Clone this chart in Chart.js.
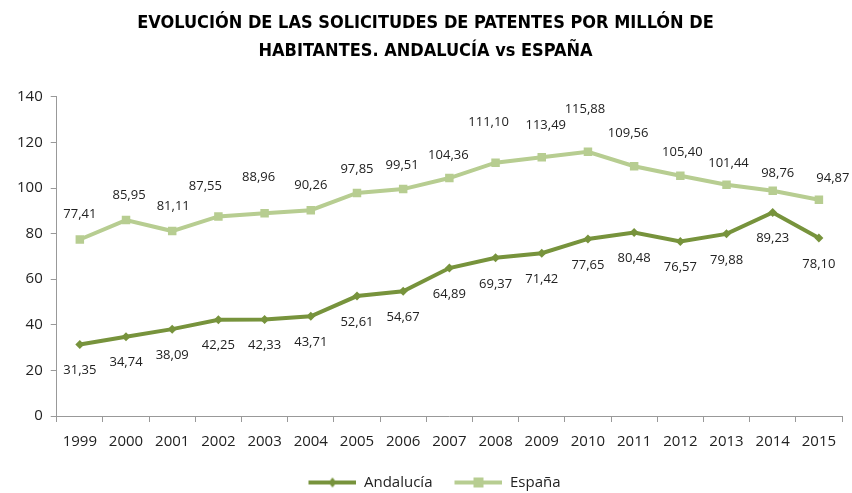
<!DOCTYPE html>
<html>
<head>
<meta charset="utf-8">
<script src="https://cdn.jsdelivr.net/npm/chart.js@4/dist/chart.umd.min.js"></script>
<style>
  html, body { margin: 0; padding: 0; background: #fff; }
  #wrap { width: 852px; height: 493px; position: relative; }
</style>
</head>
<body>
<div id="wrap"><canvas id="chart"></canvas></div>
<script>
// años y valores (solicitudes por millón de habitantes)
var years = ['1999','2000','2001','2002','2003','2004','2005','2006','2007','2008','2009','2010','2011','2012','2013','2014','2015'];
var andalucia = [31.35, 34.74, 38.09, 42.25, 42.33, 43.71, 52.61, 54.67, 64.89, 69.37, 71.42, 77.65, 80.48, 76.57, 79.88, 89.23, 78.10];
var espana = [77.41, 85.95, 81.11, 87.55, 88.96, 90.26, 97.85, 99.51, 104.36, 111.10, 113.49, 115.88, 109.56, 105.40, 101.44, 98.76, 94.87];

// desplazamiento de las etiquetas de España (como las colocó Excel)
var espLabelShift = [[0,-25],[3,-25],[1,-25],[-13,-30],[-6,-36],[0,-25],[0,-24],[-1,-24],[-1,-23],[-7,-40],[4,-32],[-3,-42],[-6,-33],[2,-23],[2,-21],[5,-18],[14,-21]];

var colAnd = '#77933C';
var colEsp = '#B7CD91';
var FONT = "'Open Sans', 'Liberation Sans', sans-serif";

// icono de leyenda: hueco a la izquierda + línea con marcador
function legendIcon(color, style) {
    var c = document.createElement('canvas');
    c.width = 66; c.height = 12;
    var g = c.getContext('2d');
    g.strokeStyle = color; g.fillStyle = color; g.lineWidth = 4;
    g.beginPath(); g.moveTo(18, 6); g.lineTo(66, 6); g.stroke();
    if (style === 'rect') {
        g.fillRect(37, 1, 10, 10);
    } else {
        g.beginPath(); g.moveTo(42, 1); g.lineTo(46, 6); g.lineTo(42, 11); g.lineTo(38, 6); g.closePath(); g.fill();
    }
    return c;
}

var dataLabels = {
    id: 'dataLabels',
    afterLayout: function(chart) {
        // bajar la leyenda hasta el borde inferior
        chart.legend.top += 9;
        chart.legend.bottom += 9;
    },
    afterDatasetsDraw: function(chart) {
        var ctx = chart.ctx;
        ctx.save();
        ctx.font = '13px ' + FONT;
        ctx.fillStyle = '#222';
        ctx.textAlign = 'center';
        ctx.textBaseline = 'middle';
        chart.data.datasets.forEach(function(ds, i) {
            var meta = chart.getDatasetMeta(i);
            meta.data.forEach(function(pt, j) {
                var txt = ds.data[j].toFixed(2).replace('.', ',');
                var dx = 0, dy = 26;
                if (i === 1) { dx = espLabelShift[j][0]; dy = espLabelShift[j][1]; }
                ctx.fillText(txt, pt.x + dx, pt.y + dy);
            });
        });
        ctx.restore();
    }
};

var ctx = document.getElementById('chart').getContext('2d');
var myChart = new Chart(ctx, {
    type: 'line',
    data: {
        labels: years,
        datasets: [
            {
                label: 'Andalucía',
                data: andalucia,
                borderColor: colAnd,
                backgroundColor: colAnd,
                borderWidth: 4,
                pointStyle: 'rectRot',
                pointRadius: 4.5,
                pointBorderWidth: 0,
                tension: 0
            },
            {
                label: 'España',
                data: espana,
                borderColor: colEsp,
                backgroundColor: colEsp,
                borderWidth: 4,
                pointStyle: 'rect',
                pointRadius: 6,
                pointBorderWidth: 0,
                tension: 0
            }
        ]
    },
    options: {
        responsive: true,
        maintainAspectRatio: false,
        animation: false,
        layout: { padding: { left: 9, right: 10, top: 6, bottom: 2 } },
        plugins: {
            title: {
                display: true,
                text: ['EVOLUCIÓN DE LAS SOLICITUDES DE PATENTES POR MILLÓN DE', 'HABITANTES. ANDALUCÍA vs ESPAÑA'],
                color: '#000',
                font: { family: "'Liberation Sans Narrow', 'DejaVu Sans Condensed', sans-serif", size: 18, weight: 'bold', lineHeight: 1.55 },
                padding: { top: 3, bottom: 32 }
            },
            legend: {
                position: 'bottom',
                labels: {
                    color: '#222',
                    font: { family: FONT, size: 15 },
                    usePointStyle: true,
                    pointStyleWidth: 66,
                    boxHeight: 12,
                    padding: 4,
                    generateLabels: function(chart) {
                        return chart.data.datasets.map(function(ds, i) {
                            return {
                                text: ds.label,
                                pointStyle: legendIcon(ds.borderColor, ds.pointStyle),
                                fillStyle: ds.borderColor,
                                strokeStyle: ds.borderColor,
                                lineWidth: 0,
                                datasetIndex: i,
                                fontColor: '#222'
                            };
                        });
                    }
                }
            },
            tooltip: { enabled: false }
        },
        scales: {
            x: {
                offset: true,
                grid: { display: true, offset: true, drawOnChartArea: false, color: '#999', tickLength: 6 },
                border: { color: '#999', width: 1 },
                ticks: { color: '#222', font: { family: FONT, size: 15 }, padding: 11, maxRotation: 0, autoSkip: false }
            },
            y: {
                min: 0,
                max: 140,
                grid: { display: true, drawOnChartArea: false, color: '#999', tickLength: 6 },
                border: { color: '#999', width: 1 },
                ticks: { stepSize: 20, color: '#222', font: { family: FONT, size: 15 }, padding: 8 }
            }
        }
    },
    plugins: [dataLabels]
});
</script>
</body>
</html>
